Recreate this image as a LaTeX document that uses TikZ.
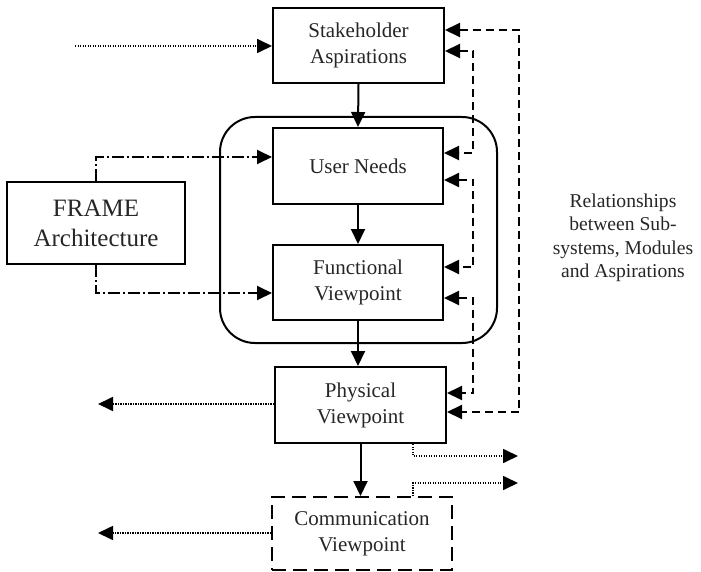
\documentclass[tikz,border=0pt]{standalone}
\usepackage{fontspec}
\setmainfont{Liberation Serif}
\usetikzlibrary{arrows.meta,calc}
\begin{document}
\begin{tikzpicture}[x=1pt,y=-1pt,
  >={Triangle[length=15pt,width=14pt]},
  box/.style={draw, line width=2pt, align=center, inner sep=0pt,
    font=\fontsize{21}{26}\selectfont, text=black!85},
  solidarrow/.style={line width=2pt, ->},
  dasharrow/.style={line width=2pt, dash pattern=on 8pt off 5pt, <->},
  dotarrow/.style={line width=1.7pt, dash pattern=on 1.4pt off 1.1pt, ->},
  dasharrowone/.style={line width=1.9pt, dash pattern=on 12pt off 3pt on 2pt off 3pt, ->},
  label/.style={align=center, font=\fontsize{19.6}{23.5}\selectfont, text=black!85}
]
\useasboundingbox (0,0) rectangle (701,572);

% container
\draw[line width=2pt, rounded corners=35pt] (220,117) rectangle (497,343);

\node[box, minimum width=171pt, minimum height=75pt] (SA) at (358.5,45.5) {Stakeholder\\Aspirations};
\node[box, minimum width=170pt, minimum height=76pt] (UN) at (358,166) {User Needs};
\node[box, minimum width=170pt, minimum height=75pt] (FV) at (358,282.5) {Functional\\Viewpoint};
\node[box, minimum width=171pt, minimum height=76pt] (PV) at (360.5,405) {Physical\\Viewpoint};
\node[box, dash pattern=on 14pt off 7pt, minimum width=180pt, minimum height=73pt] (CV) at (362,533.5) {Communication\\Viewpoint};
\node[box, minimum width=178pt, minimum height=82pt, font=\fontsize{25}{30}\selectfont] (FR) at (96,223) {FRAME\\Architecture};

\node[label] (REL) at (623,238) {Relationships\\between Sub-\\systems, Modules\\and Aspirations};

% solid flow
\draw[solidarrow] (SA.south) -- (UN.north);
\draw[solidarrow] (UN.south) -- (FV.north);
\draw[solidarrow] (FV.south) -- (FV.south |- PV.north);
\draw[solidarrow] (PV.south) -- (PV.south |- CV.north);

% incoming dotted
\coordinate (inSA) at (75,46);
\draw[dotarrow] (inSA) -- (inSA -| SA.west);

% FRAME dash-dot
\draw[dasharrowone] (FR.north) |- ($(UN.west)+(0,-9)$);
\draw[dasharrowone] (FR.south) |- ($(FV.west)+(0,10.5)$);

% right dashed relationships
\draw[dasharrow] ($(SA.east)+(0,5.5)$) -- ++(28,0) |- ($(UN.east)+(0,-13)$);
\draw[dasharrow] ($(UN.east)+(0,14)$) -- ++(29,0) |- ($(FV.east)+(0,-15.5)$);
\draw[dasharrow] ($(FV.east)+(0,15.5)$) -- ++(29,0) |- ($(PV.east)+(0,-12)$);
\draw[dasharrow] ($(SA.east)+(0,-15.5)$) -- ++(74,0) |- ($(PV.east)+(0,7)$);

% outgoing dotted
\coordinate (outPV) at (98,404);
\coordinate (outCV) at (98,533);
\draw[dotarrow] ($(PV.west)+(0,-1)$) -- (outPV);
\draw[dotarrow] ($(CV.west)+(0,-0.5)$) -- (outCV);
\coordinate (o1) at (518,456);
\coordinate (o2) at (518,483);
\draw[dotarrow] ($(PV.south east)+(-34,0)$) |- (o1);
\draw[dotarrow] ($(CV.north east)+(-40,0)$) |- (o2);
\end{tikzpicture}
\end{document}
